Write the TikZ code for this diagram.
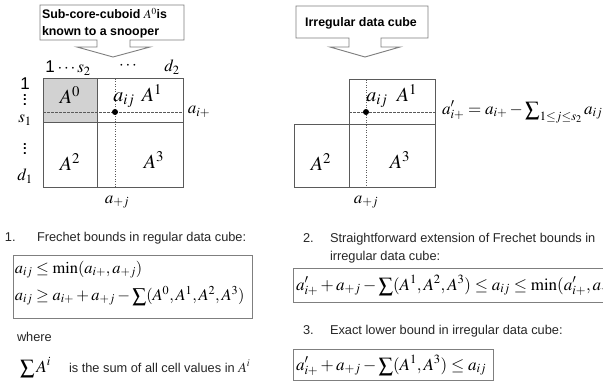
\documentclass[tikz,border=0pt]{standalone}
\usepackage{mathptmx}
\usepackage[no-math]{fontspec}
\setmainfont{Liberation Sans}
\definecolor{gridc}{HTML}{5A5A5A}
\definecolor{boxc}{HTML}{7F7F7F}
\definecolor{shadec}{HTML}{D2D2D2}
\newcommand\bigsum{\mathop{\raisebox{-0.12em}{\scalebox{1.2}{$\textstyle\sum$}}}}
\newcommand\myvdots{\vbox{\baselineskip=4.5pt\lineskiplimit=0pt\hbox{.}\hbox{.}\hbox{.}}}
\begin{document}
\begin{tikzpicture}[x=1pt,y=-1pt,
  lbl/.style={inner sep=0pt, outer sep=0pt},
  gridline/.style={draw=gridc, line width=1pt},
  callout/.style={draw=boxc, line width=0.9pt, fill=white},
  formbox/.style={draw=boxc, line width=1pt},
  dashln/.style={draw=gridc, dash pattern=on 2.5pt off 1.5pt, line width=0.8pt},
  dotln/.style={draw=gridc, dash pattern=on 1pt off 1.5pt, line width=0.8pt},
  bigm/.style={lbl, font=\fontsize{20}{20}\selectfont},
  midm/.style={lbl, font=\fontsize{17}{17}\selectfont},
  fm/.style={lbl, font=\fontsize{17}{17}\selectfont},
  fml/.style={lbl, font=\fontsize{16.4}{16.4}\selectfont},
  txt/.style={lbl, font=\fontsize{12.8}{15}\selectfont, text=black!85},
  ctxt/.style={lbl, font=\bfseries\fontsize{12.4}{17}\selectfont},
  dotsl/.style={lbl, font=\bfseries\fontsize{13}{13}\selectfont}
]
\clip (0,0) rectangle (603,385);
\fill[white] (0,0) rectangle (603,385);

% left callout
\draw[callout] (40,5) -- (184,5) -- (184,40) -- (130,40) -- (130,47) -- (150,47) -- (113,57) -- (77,47) -- (97,47) -- (97,40) -- (40,40) -- cycle;
\node[ctxt, anchor=base west] (c1a) at (42,19) {Sub-core-cuboid $A^0$is};
\node[ctxt, anchor=base west] (c1b) at (42,36) {known to a snooper};

% right callout
\draw[callout] (296,6) -- (428,6) -- (428,38) -- (381,38) -- (381,47) -- (400,47) -- (365,57) -- (330,47) -- (349,47) -- (349,38) -- (296,38) -- cycle;
\node[ctxt, anchor=base] (c2) at (361,27) {Irregular data cube};

% left grid
\fill[shadec] (43,79) rectangle (97,123);
\draw[gridline] (43,79) rectangle (183,188);
\draw[gridline] (97,79) -- (97,188);
\draw[gridline] (43,123) -- (183,123);
\draw[dashln] (43,112) -- (183,112);
\draw[dotln] (115,79) -- (115,188);
\fill (115,112) circle (3);

\node[bigm] (A0) at (70,95) {$A^0$};
\node[bigm] (aij) at (124,100) {$a_{ij}$};
\node[bigm] (A1) at (152,93) {$A^1$};
\node[midm] (aip) at (199,112) {$a_{i+}$};
\node[bigm] (A2) at (70,162) {$A^2$};
\node[bigm] (A3) at (154,160) {$A^3$};
\node[midm] (apj) at (117,202) {$a_{+j}$};

\node[midm] (top1) at (68,68) {1\,$\cdots s_2$};
\node[midm] (topd) at (128,66) {$\cdots$};
\node[midm] (d2) at (172,67) {$d_2$};
\node[midm, anchor=base] (l1) at (25,90) {1};
\node[dotsl] (lv1) at (25,100) {\myvdots};
\node[midm, anchor=base] (s1) at (25,123) {$s_1$};
\node[dotsl] (lv2) at (25,149) {\myvdots};
\node[midm, anchor=base] (d1) at (25,181) {$d_1$};

% right grid
\draw[gridline] (349,80) rectangle (435,125);
\draw[gridline] (294,125) rectangle (435,188);
\draw[gridline] (349,125) -- (349,188);
\draw[dashln] (349,112) -- (435,112);
\draw[dotln] (366,80) -- (366,188);
\fill (366,112) circle (3);

\node[bigm] (raij) at (377,100) {$a_{ij}$};
\node[bigm] (rA1) at (407,93) {$A^1$};
\node[bigm] (rA2) at (321,162) {$A^2$};
\node[bigm] (rA3) at (400,160) {$A^3$};
\node[midm] (rapj) at (366,202) {$a_{+j}$};
\node[midm, anchor=west] (f0) at (442,112) {$a'_{i+} = a_{i+} - \bigsum\nolimits_{1\le j\le s_2} a_{ij}$};

% bottom left
\node[txt, anchor=base west] (n1) at (5,241) {1.};
\node[txt, anchor=base west] (t1) at (37,241) {Frechet bounds in regular data cube:};
\draw[formbox] (13,255) rectangle (252,318);
\node[fml, anchor=base west] (f1a) at (15,273) {$a_{ij} \le \min(a_{i+}, a_{+j})$};
\node[fml, anchor=base west] (f1b) at (15,300) {$a_{ij} \ge a_{i+} + a_{+j} - \bigsum(A^0, A^1, A^2, A^3)$};
\node[txt, anchor=base west] (wh) at (17,341) {where};
\node[fm, anchor=base west] (sA) at (20,372) {$\bigsum A^i$};
\node[txt, anchor=base west] (st) at (69,372) {is the sum of all cell values in {\fontsize{14}{14}\selectfont$A^i$}};

% bottom right
\node[txt, anchor=base west] (n2) at (303,243) {2.};
\node[txt, anchor=base west] (t2) at (330,243) {Straightforward extension of Frechet bounds in};
\node[txt, anchor=base west] (t2b) at (330,260) {irregular data cube:};
\draw[formbox] (293,268) rectangle (700,302);
\node[fm, anchor=base west] (f2) at (296,290) {$a'_{i+} + a_{+j} - \bigsum(A^1, A^2, A^3) \le a_{ij} \le \min(a'_{i+}, a_{+j})$};
\node[txt, anchor=base west] (n3) at (303,334) {3.};
\node[txt, anchor=base west] (t3) at (330,334) {Exact lower bound in irregular data cube:};
\draw[formbox] (293,349) rectangle (493,380);
\node[fm, anchor=base west] (f3) at (296,370) {$a'_{i+} + a_{+j} - \bigsum(A^1, A^3) \le a_{ij}$};
\end{tikzpicture}
\end{document}
